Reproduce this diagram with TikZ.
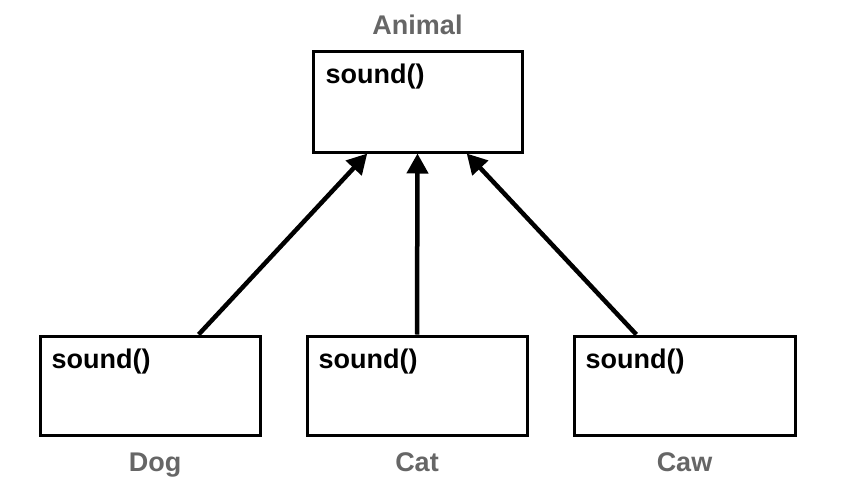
\documentclass[tikz,border=0pt]{standalone}
\usepackage{fontspec}
\setmainfont{Liberation Sans}
\usetikzlibrary{arrows.meta,calc}
\definecolor{labelgrey}{HTML}{666666}
\begin{document}
\begin{tikzpicture}[x=1pt,y=-1pt,
  classbox/.style={draw=black,line width=3pt,fill=white,rectangle,inner sep=0pt},
  methodtext/.style={anchor=base west,inner sep=0pt,font=\fontsize{27}{32}\selectfont\bfseries,text=black},
  classname/.style={anchor=base,inner sep=0pt,font=\fontsize{27}{32}\selectfont\bfseries,text=labelgrey},
  inherit/.style={line width=4.5pt,-{Triangle[length=20pt,width=21pt]}}]
\useasboundingbox (0,0) rectangle (856,487);
% boxes
\node[classbox,minimum width=209pt,minimum height=100pt] (animal) at (417.5,102) {};
\node[classbox,minimum width=220pt,minimum height=99pt] (dog) at (150,385.5) {};
\node[classbox,minimum width=220pt,minimum height=99pt] (cat) at (417,385.5) {};
\node[classbox,minimum width=221pt,minimum height=99pt] (caw) at (684.5,385.5) {};
% methods
\node[methodtext] (m0) at ($(animal.north west)+(14,33)$) {sound()};
\node[methodtext] (m1) at ($(dog.north west)+(13,34)$) {sound()};
\node[methodtext] (m2) at ($(cat.north west)+(13,34)$) {sound()};
\node[methodtext] (m3) at ($(caw.north west)+(13,34)$) {sound()};
% names
\node[classname] (nanimal) at (417.5,35) {Animal};
\node[classname] (ndog) at (155,471) {Dog};
\node[classname] (ncat) at (417,471) {Cat};
\node[classname] (ncaw) at (684.5,471) {Caw};
% arrows
\coordinate (s1) at ($(dog.north west)!0.718!(dog.north east)$);
\coordinate (t1) at ($(animal.south west)!0.263!(animal.south east)$);
\coordinate (t2) at ($(animal.south west)!0.5!(animal.south east)$);
\coordinate (s3) at ($(caw.north west)!0.285!(caw.north east)$);
\coordinate (t3) at ($(animal.south west)!0.732!(animal.south east)$);
\draw[inherit] (s1) -- (t1);
\draw[inherit] (cat.north) -- (t2);
\draw[inherit] (s3) -- (t3);
\end{tikzpicture}
\end{document}
